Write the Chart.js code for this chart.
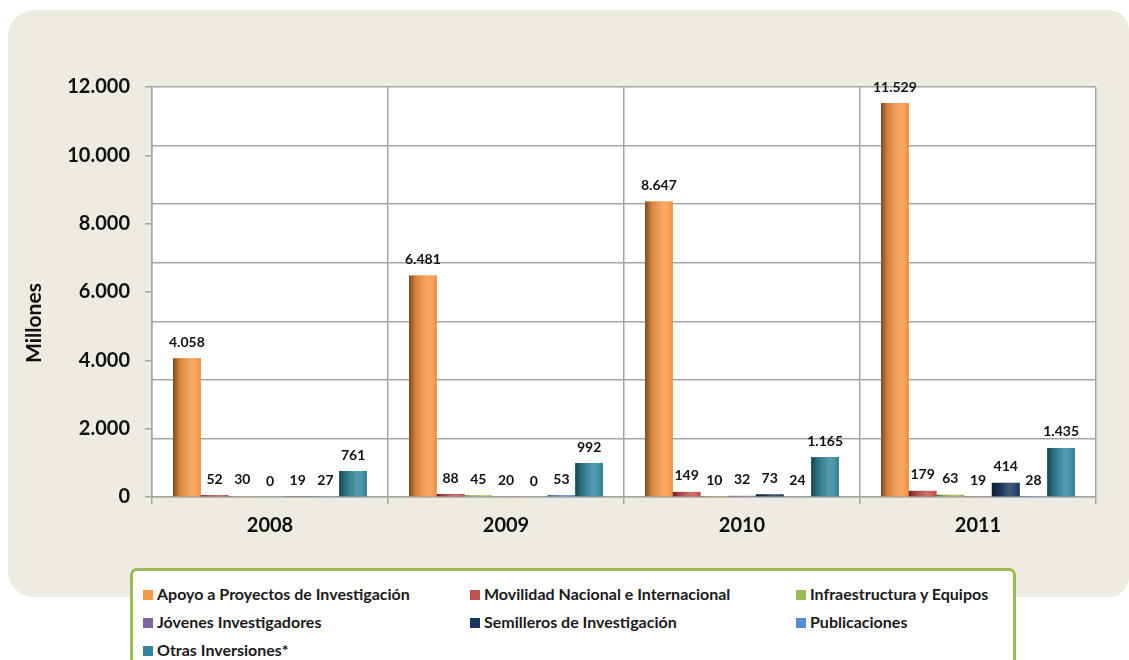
<!DOCTYPE html>
<html>
<head>
<meta charset="utf-8">
<script src="https://cdn.jsdelivr.net/npm/chart.js@4.4.1/dist/chart.umd.min.js"></script>
<style>
  html, body { margin: 0; padding: 0; background: #ffffff; }
  #wrap { position: relative; width: 1129px; height: 660px; overflow: hidden; }
  #chart { position: absolute; left: 0; top: 0; }
  #legend {
    position: absolute; left: 130px; top: 568px; width: 880px; height: 110px;
    border: 3px solid #9bbb59; border-radius: 7px; background: #ffffff;
  }
  .item { position: absolute; font: bold 16px Lato, sans-serif; color: #1a1a1a; white-space: nowrap; line-height: 18px; }
  .item span { display: inline-block; width: 10px; height: 10px; margin-right: 4px; vertical-align: 0px; }
</style>
</head>
<body>
<div id="wrap">
  <canvas id="chart" width="1129" height="660"></canvas>
  <div id="legend"></div>
</div>
<script>
var years = ['2008', '2009', '2010', '2011'];
var seriesNames = [
  'Apoyo a Proyectos de Investigación',
  'Movilidad Nacional e Internacional',
  'Infraestructura y Equipos',
  'Jóvenes Investigadores',
  'Semilleros de Investigación',
  'Publicaciones',
  'Otras Inversiones*'
];
var seriesColors = ['#f79646', '#c0504d', '#9bbb59', '#8064a2', '#17375e', '#558ed5', '#31859c'];
var apoyo = [4058, 6481, 8647, 11529];
var movilidad = [52, 88, 149, 179];
var infraestructura = [30, 45, 10, 63];
var jovenes = [0, 20, 32, 19];
var semilleros = [19, 0, 73, 414];
var publicaciones = [27, 53, 24, 28];
var otras = [761, 992, 1165, 1435];
var seriesValues = [apoyo, movilidad, infraestructura, jovenes, semilleros, publicaciones, otras];
var yTicks = [0, 2000, 4000, 6000, 8000, 10000, 12000];
var yTitle = 'Millones';

function fmt(v) {
  return String(v).replace(/\B(?=(\d{3})+(?!\d))/g, '.');
}
function mix(hex, target, t) {
  var a = parseInt(hex.slice(1), 16), b = parseInt(target.slice(1), 16);
  var r = Math.round(((a >> 16) & 255) * (1 - t) + ((b >> 16) & 255) * t);
  var g = Math.round(((a >> 8) & 255) * (1 - t) + ((b >> 8) & 255) * t);
  var bl = Math.round((a & 255) * (1 - t) + (b & 255) * t);
  return 'rgb(' + r + ',' + g + ',' + bl + ')';
}

var GRID = '#a6a6a6';

// panel + white plot background
var background = {
  id: 'background',
  beforeDraw: function(chart) {
    var ctx = chart.ctx, a = chart.chartArea;
    ctx.save();
    ctx.fillStyle = '#eeece1';
    ctx.beginPath();
    ctx.roundRect(8, 10, 1121, 587, [26, 20, 20, 26]);
    ctx.fill();
    ctx.fillStyle = '#ffffff';
    ctx.fillRect(a.left, a.top, a.right - a.left, a.bottom - a.top);
    ctx.restore();
  },
  afterDraw: function(chart) {
    // axis title sits a bit below the middle of the plot, as in the original
    var ctx = chart.ctx;
    ctx.save();
    ctx.translate(34, 323);
    ctx.rotate(-Math.PI / 2);
    ctx.fillStyle = '#111111';
    ctx.font = 'bold 21px Lato, sans-serif';
    ctx.textAlign = 'center';
    ctx.textBaseline = 'middle';
    ctx.fillText(yTitle, 0, 0);
    ctx.restore();
  }
};

// cylinder-like shading on each bar + value labels
var shading = {
  id: 'shading',
  afterDatasetsDraw: function(chart) {
    var ctx = chart.ctx;
    ctx.save();
    chart.data.datasets.forEach(function(ds, i) {
      var meta = chart.getDatasetMeta(i);
      var c = seriesColors[i];
      meta.data.forEach(function(bar, j) {
        var left = bar.x - bar.width / 2;
        var top = Math.min(bar.y, bar.base), h = Math.abs(bar.base - bar.y);
        if (h > 0) {
          var g = ctx.createLinearGradient(left, 0, left + bar.width, 0);
          g.addColorStop(0, mix(c, '#000000', 0.5));
          g.addColorStop(0.25, mix(c, '#000000', 0.12));
          g.addColorStop(0.65, mix(c, '#ffffff', 0.18));
          g.addColorStop(0.85, mix(c, '#ffffff', 0.1));
          g.addColorStop(1, mix(c, '#000000', 0.05));
          ctx.fillStyle = g;
          ctx.fillRect(left, top, bar.width, h);
        }
        ctx.fillStyle = '#111111';
        ctx.font = 'bold 14px Lato, sans-serif';
        ctx.textAlign = 'center';
        ctx.textBaseline = 'middle';
        ctx.fillText(fmt(ds.data[j]), bar.x, top - 16);
      });
    });
    ctx.restore();
  }
};

var datasets = seriesNames.map(function(name, i) {
  return {
    label: name,
    data: seriesValues[i],
    backgroundColor: seriesColors[i],
    borderWidth: 0,
    barPercentage: 1,
    categoryPercentage: 0.822
  };
});

new Chart(document.getElementById('chart'), {
  type: 'bar',
  data: { labels: years, datasets: datasets },
  options: {
    responsive: false,
    animation: false,
    layout: { padding: { left: 0, right: 33, top: 87, bottom: 0 } },
    plugins: { legend: { display: false }, tooltip: { enabled: false } },
    scales: {
      x: {
        grid: { offset: true, color: GRID, lineWidth: 1.5, tickLength: 7, drawOnChartArea: true },
        border: { color: GRID, width: 1.5 },
        ticks: { color: '#111111', font: { family: 'Lato', size: 20, weight: 'bold' }, padding: 10 },
        afterFit: function(s) { s.height = 163; }
      },
      y: {
        min: 0, max: 12000,
        afterBuildTicks: function(s) { s.ticks = yTicks.map(function(v) { return { value: v }; }); },
        grid: { drawOnChartArea: false, color: GRID, lineWidth: 1.5, tickLength: 7 },
        border: { color: GRID, width: 1.5 },
        ticks: { color: '#111111', font: { family: 'Lato', size: 20, weight: 'bold' }, padding: 15,
                 callback: function(v) { return fmt(v); } },
        afterFit: function(s) { s.width = 152; }
      },
      yg: {
        position: 'right',
        min: 0, max: 7,
        ticks: { display: false, stepSize: 1 },
        grid: { color: GRID, lineWidth: 1.5, drawTicks: false },
        border: { display: false },
        afterFit: function(s) { s.width = 0; }
      }
    }
  },
  plugins: [background, shading]
});

// legend from the series arrays
var legend = document.getElementById('legend');
var colX = [10, 337, 663];
var rowY = [14, 42, 70];
seriesNames.forEach(function(name, i) {
  var d = document.createElement('div');
  d.className = 'item';
  d.style.left = colX[i % 3] + 'px';
  d.style.top = rowY[Math.floor(i / 3)] + 'px';
  d.innerHTML = '<span style="background:' + seriesColors[i] + '"></span>' + name;
  legend.appendChild(d);
});
</script>
</body>
</html>
